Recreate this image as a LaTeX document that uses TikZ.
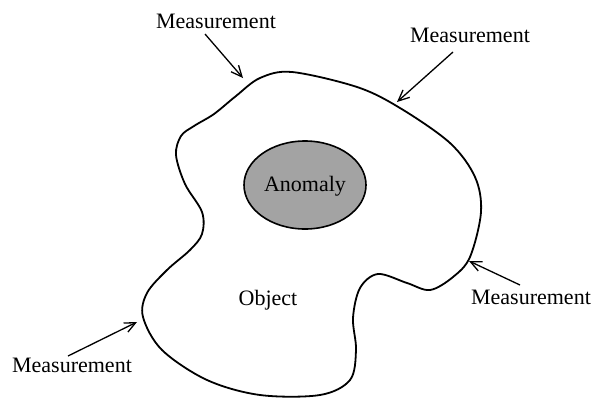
\documentclass[tikz,border=0pt]{standalone}
\usepackage{fontspec}
\setmainfont{Liberation Serif}
\usetikzlibrary{arrows.meta,shapes.geometric}
\begin{document}
\begin{tikzpicture}[x=1pt,y=-1pt,
  lbl/.style={font=\fontsize{22}{26}\selectfont, inner sep=0pt},
  meas/.style={-{Straight Barb[length=11pt,width=10pt,line width=1.3pt]}, line width=1.3pt},
  blob/.style={line width=1.8pt},
  anom/.style={draw, line width=1.6pt, fill=black!36}]
\useasboundingbox (0,0) rectangle (595,397);
\draw[blob] plot[smooth cycle, tension=0.55] coordinates {
 (292,72) (357,87) (400,108) (450,143) (475,177) (481,212) (470,257)
 (453,277) (430,290) (407,283) (378,274) (360,288) (353,318) (356,350)
 (350,380) (320,395) (260,395) (207,380) (162,350) (143,317) (147,293)
 (167,270) (190,250) (202,234) (202,212) (185,184) (176,155) (181,136)
 (194,126) (214,114) (236,96) (260,78)};
\node[anom, ellipse, minimum width=122pt, minimum height=88pt] (anomaly) at (305,185) {};
\node[lbl] (anomtext) at (305,186) {Anomaly};
\node[lbl] (object) at (268,300) {Object};
\node[lbl] (m1) at (216,21) {Measurement};
\node[lbl] (m2) at (470,35) {Measurement};
\node[lbl] (m3) at (531,297) {Measurement};
\node[lbl] (m4) at (72,365) {Measurement};
\coordinate (s1) at (205,34); \coordinate (e1) at (243,78);
\coordinate (s2) at (453,52); \coordinate (e2) at (397,102);
\coordinate (s3) at (520,285); \coordinate (e3) at (469,261);
\coordinate (s4) at (68,356); \coordinate (e4) at (137,322);
\draw[meas] (s1) -- (e1);
\draw[meas] (s2) -- (e2);
\draw[meas] (s3) -- (e3);
\draw[meas] (s4) -- (e4);
\end{tikzpicture}
\end{document}
